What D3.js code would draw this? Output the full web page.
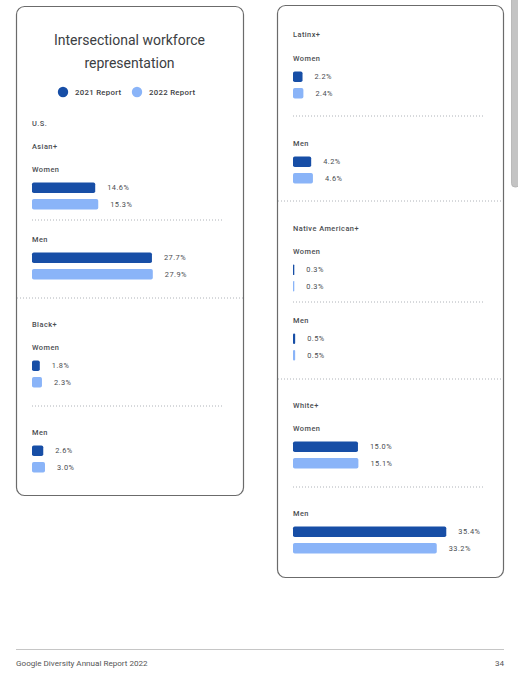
<!DOCTYPE html>
<html>
<head>
<meta charset="utf-8">
<script src="https://cdn.jsdelivr.net/npm/d3@7"></script>
<style>
  html, body { margin: 0; padding: 0; background: #fff; overflow: hidden; }
  text { font-family: Roboto, "Open Sans", sans-serif; fill: #3c4043; }
</style>
</head>
<body>
<svg></svg>
<script>
// values (percent of U.S. workforce)
const groups = ["Asian+", "Black+", "Latinx+", "Native American+", "White+"];
const genders = ["Women", "Men"];
const reports = ["2021 Report", "2022 Report"];
const values2021 = [[14.6, 27.7], [1.8, 2.6], [2.2, 4.2], [0.3, 0.5], [15.0, 35.4]];
const values2022 = [[15.3, 27.9], [2.3, 3.0], [2.4, 4.6], [0.3, 0.5], [15.1, 33.2]];

const svgWidth = 518;
const svgHeight = 680;

const svg = d3.select("svg")
  .attr("width", svgWidth)
  .attr("height", svgHeight);

const color = d3.scaleOrdinal().domain(reports).range(["#174ea6", "#8ab4f8"]);

// two cards side by side
const cards = [
  {x: 16, y: 6, w: 227, h: 489, inner: 192},
  {x: 277, y: 5, w: 226, h: 572, inner: 192}
];

// where each section sits (card, header, gender labels, dividers)
const layout = [
  {card: 0, header: 146, Women: 169, divider: 220, Men: 239, rule: 298},
  {card: 0, header: 324, Women: 347, divider: 406, Men: 432, rule: null},
  {card: 1, header: 34, Women: 58, divider: 116, Men: 143, rule: 201},
  {card: 1, header: 228, Women: 251, divider: 302, Men: 320, rule: 379},
  {card: 1, header: 405, Women: 428, divider: 487, Men: 513, rule: null}
];

const x = d3.scaleLinear().domain([0, 40]).range([0, 173.2]);

// scrollbar at the right edge
svg.append("rect")
  .attr("x", 511.5).attr("y", -4).attr("width", 8).attr("height", 191)
  .attr("rx", 3.5)
  .attr("fill", "#c4c4c4").attr("stroke", "#b0b0b0").attr("stroke-width", 0.8);

svg.selectAll("rect.card")
  .data(cards)
  .join("rect")
  .attr("class", "card")
  .attr("x", d => d.x + 0.5).attr("y", d => d.y + 0.5)
  .attr("width", d => d.w).attr("height", d => d.h)
  .attr("rx", 8)
  .attr("fill", "#fff")
  .attr("stroke", "#6b6b6b")
  .attr("stroke-width", 1.2);

// title
const c0 = cards[0];
const title = svg.append("text")
  .attr("x", c0.x + c0.w / 2)
  .attr("text-anchor", "middle")
  .style("font-size", "14px");
title.append("tspan").attr("x", c0.x + c0.w / 2).attr("y", 45).text("Intersectional workforce");
title.append("tspan").attr("x", c0.x + c0.w / 2).attr("y", 68).text("representation");

// legend
const legendX = d3.scaleOrdinal().domain(reports).range([63, 137]);
const legend = svg.append("g").selectAll("g")
  .data(reports)
  .join("g")
  .attr("transform", d => `translate(${legendX(d)},92)`);
legend.append("circle").attr("r", 5.2).attr("fill", d => color(d));
legend.append("text")
  .attr("x", 12).attr("dy", "0.35em")
  .style("font-size", "7.8px").style("font-weight", 500).style("letter-spacing", "0.3px")
  .text(d => d);

const labelStyle = sel => sel
  .style("font-size", "7.4px")
  .style("font-weight", 500)
  .style("letter-spacing", "0.45px")
  .style("fill", "#4a4d51");

svg.append("text")
  .attr("x", c0.x + 16).attr("y", 123).attr("dy", "0.35em")
  .call(labelStyle)
  .text("U.S.");

groups.forEach((group, gi) => {
  const L = layout[gi];
  const card = cards[L.card];
  const left = card.x + 16;
  const g = svg.append("g");

  g.append("text")
    .attr("x", left).attr("y", L.header).attr("dy", "0.35em")
    .call(labelStyle)
    .text(group);

  genders.forEach((gender, si) => {
    const y = d3.scaleBand().domain(reports)
      .range([L[gender] + 13.5, L[gender] + 40.5])
      .paddingInner(0.36);
    const rows = reports.map((r, ri) => ({
      report: r,
      value: (ri === 0 ? values2021 : values2022)[gi][si]
    }));

    g.append("text")
      .attr("x", left).attr("y", L[gender]).attr("dy", "0.35em")
      .call(labelStyle)
      .text(gender);

    g.selectAll(null)
      .data(rows)
      .join("rect")
      .attr("x", left)
      .attr("y", d => y(d.report))
      .attr("width", d => Math.max(x(d.value), 1.3))
      .attr("height", y.bandwidth())
      .attr("rx", Math.min(1.8, x(d3.min(rows, d => d.value)) / 2))
      .attr("fill", d => color(d.report));

    g.selectAll(null)
      .data(rows)
      .join("text")
      .attr("x", d => left + x(d.value) + 12)
      .attr("y", d => y(d.report) + y.bandwidth() / 2)
      .attr("dy", "0.35em")
      .call(labelStyle)
      .style("font-weight", 400)
      .text(d => d.value.toFixed(1) + "%");
  });

  // dotted divider between women and men
  g.append("line")
    .attr("x1", left).attr("x2", left + card.inner)
    .attr("y1", L.divider).attr("y2", L.divider)
    .attr("stroke", "#9aa0a6").attr("stroke-width", 0.8)
    .attr("stroke-dasharray", "1,2");

  // full-width dotted rule between groups
  if (L.rule !== null) {
    g.append("line")
      .attr("x1", card.x + 1).attr("x2", card.x + card.w)
      .attr("y1", L.rule).attr("y2", L.rule)
      .attr("stroke", "#9aa0a6").attr("stroke-width", 0.8)
      .attr("stroke-dasharray", "1,2");
  }
});

// footer
svg.append("line")
  .attr("x1", 16).attr("x2", 504)
  .attr("y1", 649.5).attr("y2", 649.5)
  .attr("stroke", "#c6c6c6").attr("stroke-width", 1);

svg.append("text")
  .attr("x", 16).attr("y", 663).attr("dy", "0.35em")
  .style("font-size", "8.1px").style("fill", "#555")
  .text("Google Diversity Annual Report 2022");

svg.append("text")
  .attr("x", 504).attr("y", 663).attr("dy", "0.35em")
  .attr("text-anchor", "end")
  .style("font-size", "8.1px").style("fill", "#555")
  .text("34");
</script>
</body>
</html>
